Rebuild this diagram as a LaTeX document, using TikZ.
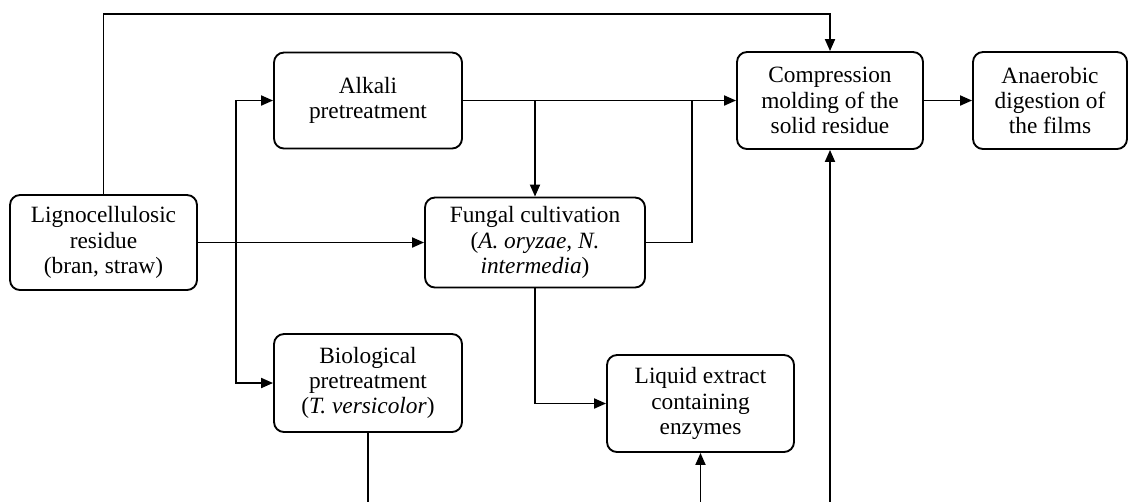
\documentclass[tikz,border=0pt]{standalone}
\IfFileExists{pplr8t.tfm}{%
  \usepackage[T1]{fontenc}\renewcommand{\rmdefault}{ppl}%
  \newcommand{\boxfont}{\fontsize{15.5}{19}\selectfont}}{%
  \usepackage{fontspec}\setmainfont{Liberation Serif}%
  \newcommand{\boxfont}{\fontsize{17.5}{19}\selectfont}}
\usetikzlibrary{arrows.meta}
\begin{document}
\begin{tikzpicture}[x=0.75pt,y=-0.75pt,
  box/.style={draw, line width=1.4pt, rounded corners=7.5pt, align=center, inner sep=0pt,
    font=\boxfont, text=black},
  arr/.style={-{Triangle[length=9pt,width=7.5pt]}, line width=1.4pt},
  ln/.style={line width=1.4pt}]
\useasboundingbox (0,0) rectangle (1129,501);
\node[box, minimum width=140.25pt, minimum height=71.25pt] (ligno) at (103.5,242.5)
  {Lignocellulosic\\residue\\(bran, straw)};
\node[box, minimum width=141pt, minimum height=72pt] (alkali) at (368,100.5)
  {Alkali\\pretreatment};
\node[box, minimum width=139.5pt, minimum height=72.75pt] (comp) at (830,100.5)
  {Compression\\molding of the\\solid residue};
\node[box, minimum width=115.5pt, minimum height=72.75pt] (anaer) at (1050,100.5)
  {Anaerobic\\digestion of\\the films};
\node[box, minimum width=165pt, minimum height=67.5pt] (fungal) at (535,242.5)
  {Fungal cultivation\\(\textit{A. oryzae, N.}\\\textit{intermedia})};
\node[box, minimum width=141pt, minimum height=73.5pt] (bio) at (368,383)
  {Biological\\pretreatment\\(\textit{T. versicolor})};
\node[box, minimum width=140.25pt, minimum height=72.75pt] (liquid) at (700.5,403.5)
  {Liquid extract\\containing\\enzymes};
\coordinate (top) at (0,14);
\coordinate (bot) at (0,502);
\coordinate (jx) at (236,0);
\coordinate (kx) at (692,0);
\draw[arr] (ligno.north) -- (ligno.north |- top) -- (top -| comp.north) -- (comp.north);
\draw[arr] (ligno.east) -- (fungal.west);
\draw[arr] (ligno.east -| jx) |- (alkali.west);
\draw[arr] (ligno.east -| jx) |- (bio.west);
\draw[arr] (alkali.east) -- (comp.west);
\draw[arr] (alkali.east -| fungal.north) -- (fungal.north);
\draw[ln] (fungal.east) -| (alkali.east -| kx);
\draw[arr] (fungal.south) |- (liquid.west);
\draw[arr] (comp.east) -- (anaer.west);
\draw[ln] (bio.south) -- (bio.south |- bot);
\draw[arr] (liquid.south |- bot) -- (liquid.south);
\draw[arr] (comp.south |- bot) -- (comp.south);
\end{tikzpicture}
\end{document}
